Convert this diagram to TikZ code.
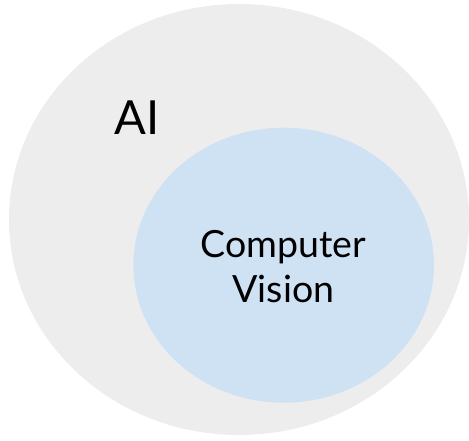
\documentclass[tikz,border=0pt]{standalone}
\usepackage{fontspec}
\setmainfont{Lato}
\definecolor{aigray}{HTML}{EDEDED}
\definecolor{cvblue}{HTML}{CFE2F3}
\begin{document}
\begin{tikzpicture}[x=1pt,y=-1pt,
  setlabel/.style={inner sep=0pt, text=black}]
  \useasboundingbox (0,0) rectangle (469,440);
  % outer set
  \fill[aigray] (239,219.5) ellipse [x radius=230, y radius=215.5];
  % inner set
  \fill[cvblue] (283.7,265.2) ellipse [x radius=150.3, y radius=137.5];
  \node[setlabel, anchor=base, font=\fontsize{47}{52}\selectfont] (ai) at (137,134) {AI};
  % base anchor sits on the last line
  \node[setlabel, anchor=base, align=center, font=\fontsize{37.5}{45}\selectfont] (cv) at (283.5,302) {Computer\\Vision};
\end{tikzpicture}
\end{document}
